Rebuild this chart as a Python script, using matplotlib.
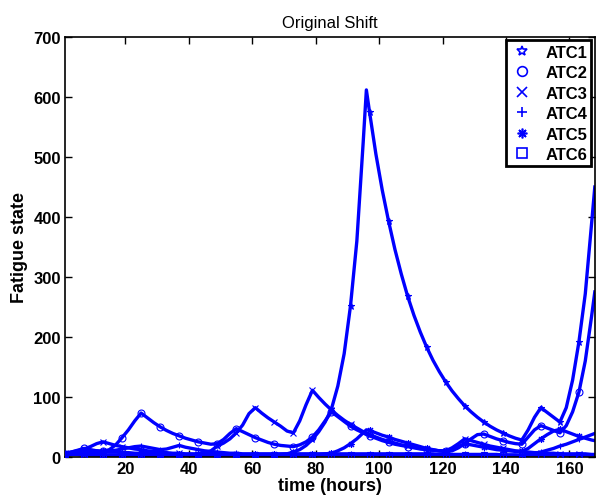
import matplotlib
matplotlib.use("Agg")
import matplotlib.pyplot as plt
from matplotlib.lines import Line2D
import numpy as np

plt.rcParams['font.family'] = ['Liberation Sans', 'DejaVu Sans']

hours = list(range(1, 96, 2)) + [96] + list(range(97, 168, 2)) + [168]

atc1 = ([5, 5, 4, 4, 4, 4, 3, 3, 3, 3, 3, 3, 3, 3, 3, 3, 3, 3, 3, 3,
         3, 3, 3, 3, 3, 3, 3, 3, 3, 3, 3, 3, 3, 3, 4, 5, 8, 12, 19, 29,
         42, 58, 80, 118, 172, 252, 360, 525]
        + [612]
        + [575, 505, 445, 393, 346, 305, 268, 236, 208, 183,
           161, 142, 125, 110, 97, 85, 75, 66, 58, 51,
           45, 40, 35, 31, 28, 45, 66, 82, 74, 66,
           58, 82, 128, 192, 272, 390]
        + [450])

atc2 = ([5, 8, 11, 14, 12, 10, 9, 12, 20, 32, 45, 60, 73, 65, 57, 50, 44, 39, 35, 31,
         28, 25, 23, 21, 22, 29, 39, 47, 42, 37, 32, 28, 24, 21, 19, 18, 17, 20, 25, 33,
         45, 60, 75, 67, 59, 51, 45, 40]
        + [37]
        + [35, 31, 27, 24, 21, 19, 17, 15, 13, 12,
           11, 10, 9, 10, 15, 22, 30, 37, 38, 34,
           30, 27, 24, 22, 21, 33, 45, 52, 48, 44,
           40, 52, 75, 108, 160, 235]
        + [275])

atc3 = ([6, 8, 10, 13, 17, 22, 25, 22, 19, 17, 15, 13, 12, 10, 9, 8, 7, 6, 6, 5,
         5, 5, 6, 10, 18, 23, 30, 40, 53, 72, 82, 73, 65, 58, 51, 43, 40, 60, 87, 111,
         99, 88, 78, 69, 61, 54, 48, 42]
        + [40]
        + [37, 33, 29, 26, 23, 20, 18, 16, 14, 12,
           11, 10, 10, 15, 22, 30, 27, 24, 21, 18,
           16, 14, 12, 10, 9, 8, 7, 7, 6, 6,
           5, 5, 5, 5, 5, 4]
        + [4])

atc4 = ([3, 4, 5, 6, 7, 8, 9, 10, 11, 13, 15, 17, 18, 16, 14, 12, 13, 16, 19, 16,
         14, 12, 10, 9, 8, 7, 6, 6, 5, 5, 5, 5, 5, 5, 5, 5, 5, 5, 5, 5,
         5, 5, 5, 5, 5, 5, 5, 5]
        + [5]
        + [5, 5, 5, 5, 5, 5, 5, 5, 5, 5,
           5, 4, 4, 4, 4, 4, 4, 4, 4, 4,
           4, 3, 3, 3, 2, 4, 6, 8, 11, 14,
           18, 21, 25, 29, 33, 37]
        + [39])

atc5 = ([5, 6, 7, 8, 9, 10, 9, 8, 8, 7, 7, 6, 6, 6, 5, 5, 5, 5, 5, 4,
         4, 4, 4, 4, 4, 4, 4, 4, 4, 4, 4, 4, 4, 4, 4, 4, 4, 4, 4, 4,
         4, 5, 6, 10, 15, 22, 30, 40]
        + [45]
        + [44, 40, 36, 33, 29, 26, 23, 20, 17, 14,
           12, 10, 9, 12, 17, 22, 20, 18, 16, 14,
           12, 11, 10, 9, 9, 14, 22, 30, 37, 43,
           46, 42, 38, 34, 31, 28]
        + [27])

atc6 = ([4, 4, 4, 3, 3, 3, 3, 3, 3, 3, 3, 3, 3, 3, 3, 3, 3, 3, 3, 3,
         3, 3, 3, 3, 3, 3, 3, 3, 3, 3, 3, 3, 3, 3, 3, 3, 3, 3, 3, 3,
         3, 3, 3, 3, 3, 3, 3, 3]
        + [3]
        + [3, 3, 3, 3, 3, 3, 3, 3, 3, 3,
           3, 3, 3, 3, 3, 3, 3, 3, 3, 3,
           3, 3, 3, 3, 3, 3, 3, 3, 3, 3,
           3, 3, 3, 3, 3, 3]
        + [3])

series_names = ['ATC1', 'ATC2', 'ATC3', 'ATC4', 'ATC5', 'ATC6']
series_vals = [atc1, atc2, atc3, atc4, atc5, atc6]
markers = ['*', 'o', 'x', '+', (8, 2, 0), 's']

x_ticks = [20, 40, 60, 80, 100, 120, 140, 160]
y_ticks = [0, 100, 200, 300, 400, 500, 600, 700]

blue = '#0000FF'

fig = plt.figure(figsize=(5.96, 5.02), dpi=100)
ax = fig.add_axes([0.109, 0.088, 0.889, 0.836])

t = np.array(hours)
mark_idx = [i for i, h in enumerate(hours) if (h - 1) % 6 == 0]

for name, vals, m in zip(series_names, series_vals, markers):
    ax.plot(t, vals, color=blue, linewidth=2.4, zorder=2,
            solid_joinstyle='round')
    ax.plot(t[mark_idx], np.array(vals)[mark_idx], linestyle='none', marker=m,
            markersize=5, markerfacecolor='none', markeredgecolor=blue,
            markeredgewidth=0.8, zorder=3)

ax.set_xlim(1, 168)
ax.set_ylim(0, 700)
ax.set_xticks(x_ticks)
ax.set_yticks(y_ticks)
ax.tick_params(direction='in', top=True, right=True, length=5, width=1,
               labelsize=12, pad=3)
for lab in ax.get_xticklabels() + ax.get_yticklabels():
    lab.set_fontweight('bold')
for s in ax.spines.values():
    s.set_linewidth(1.2)

ax.set_xlabel('time (hours)', fontsize=13, fontweight='bold', labelpad=1)
ax.set_ylabel('Fatigue state', fontsize=13, fontweight='bold', labelpad=4)
ax.set_title('Original Shift', fontsize=12, pad=7)

handles = [Line2D([], [], linestyle='none', marker=m, markersize=7,
                  markerfacecolor='none', markeredgecolor=blue, markeredgewidth=1.2)
           for m in markers]
leg = ax.legend(handles, series_names, loc='upper right',
                prop={'weight': 'bold', 'size': 12}, frameon=True, fancybox=False,
                handlelength=1.4, handletextpad=0.7, borderpad=0.25,
                labelspacing=0.33, borderaxespad=0.2)
leg.get_frame().set_edgecolor('black')
leg.get_frame().set_linewidth(2)
leg.get_frame().set_alpha(1)

fig.savefig('out.png', dpi=100)
